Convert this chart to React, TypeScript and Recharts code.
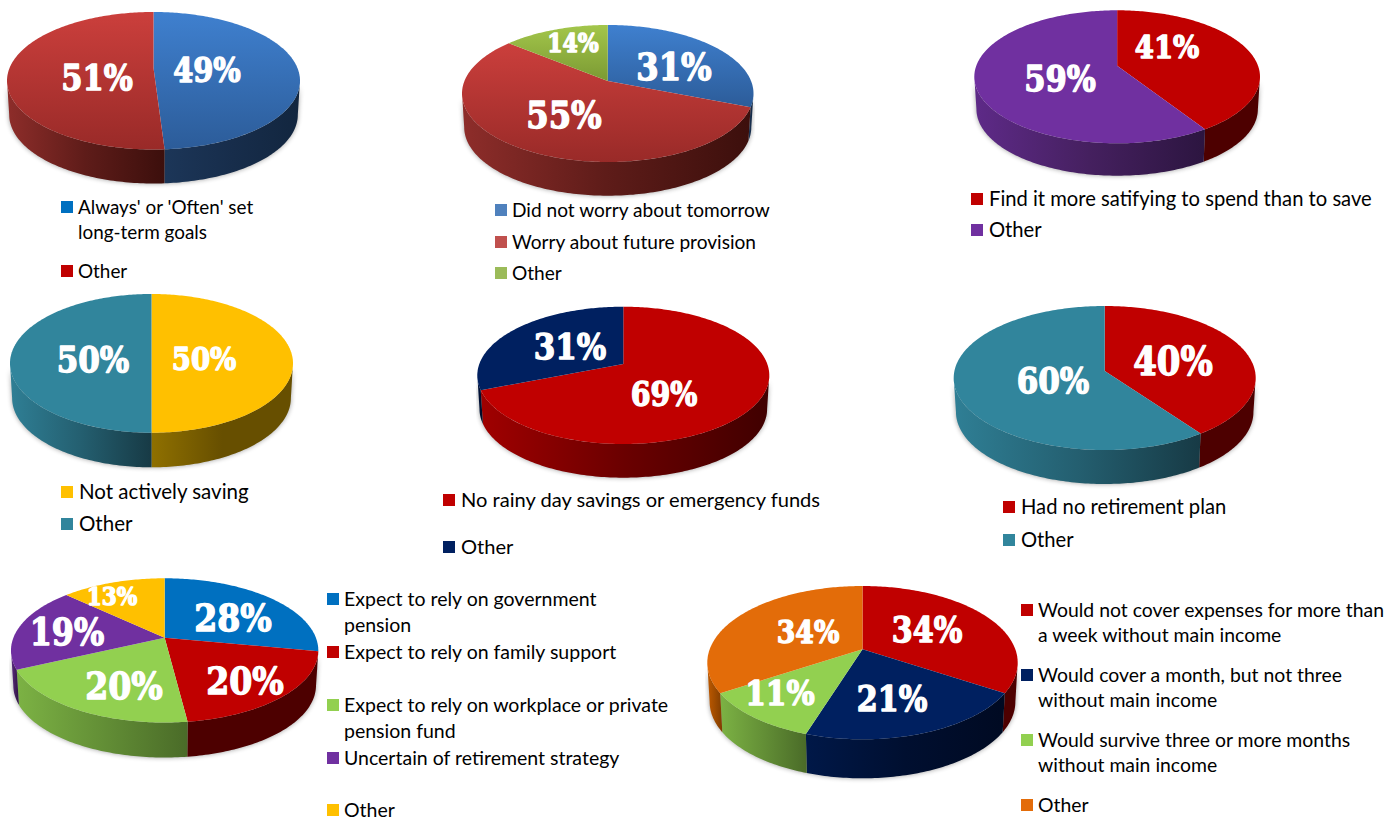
import React from "react";
import { PieChart, Pie } from "recharts";

// Slice names, values and legend rows for each survey question.
const goalNames = ["Always' or 'Often' set long-term goals", "Other"];
const goalValues = [49, 51];
const goalLegend = [["Always' or 'Often' set", "long-term goals"], ["Other"]];

const worryNames = ["Did not worry about tomorrow", "Worry about future provision", "Other"];
const worryValues = [31, 55, 14];
const worryLegend = [["Did not worry about tomorrow"], ["Worry about future provision"], ["Other"]];

const spendNames = ["Find it more satifying to spend than to save", "Other"];
const spendValues = [41, 59];
const spendLegend = [["Find it more satifying to spend than to save"], ["Other"]];

const savingNames = ["Not actively saving", "Other"];
const savingValues = [50, 50];
const savingLegend = [["Not actively saving"], ["Other"]];

const rainyNames = ["No rainy day savings or emergency funds", "Other"];
const rainyValues = [69, 31];
const rainyLegend = [["No rainy day savings or emergency funds"], ["Other"]];

const planNames = ["Had no retirement plan", "Other"];
const planValues = [40, 60];
const planLegend = [["Had no retirement plan"], ["Other"]];

const relyNames = [
  "Expect to rely on government pension",
  "Expect to rely on family support",
  "Expect to rely on workplace or private pension fund",
  "Uncertain of retirement strategy",
  "Other",
];
const relyValues = [28, 20, 20, 19, 13];
const relyLegend = [
  ["Expect to rely on government", "pension"],
  ["Expect to rely on family support"],
  ["Expect to rely on workplace or private", "pension fund"],
  ["Uncertain of retirement strategy"],
  ["Other"],
];

const incomeNames = [
  "Would not cover expenses for more than a week without main income",
  "Would cover a month, but not three without main income",
  "Would survive three or more months without main income",
  "Other",
];
const incomeValues = [34, 21, 11, 34];
const incomeLegend = [
  ["Would not cover expenses for more than", "a week without main income"],
  ["Would cover a month, but not three", "without main income"],
  ["Would survive three or more months", "without main income"],
  ["Other"],
];

// Face fill is [top, bottom]; wall fill is [left, middle, right].
type Paint = { face: [string, string]; wall: [string, string, string]; swatch: string };

const softBlue: Paint = { face: ["#3F80CF", "#2C5C99"], wall: ["#1C3658", "#172D4B", "#12263F"], swatch: "#0070C0" };
const softRed: Paint = { face: ["#CB3F3C", "#992A28"], wall: ["#8E2D2A", "#5E1C19", "#3C0F0C"], swatch: "#C00000" };
const softGreen: Paint = { face: ["#A3C64B", "#7B9A33"], wall: ["#7B9A33", "#5E7A28", "#4A6120"], swatch: "#9BBB59" };
const red: Paint = { face: ["#C00000", "#C00000"], wall: ["#A00000", "#6A0000", "#400000"], swatch: "#C00000" };
const redEdge: Paint = { face: ["#C00000", "#C00000"], wall: ["#4D0000", "#4D0000", "#4D0000"], swatch: "#C00000" };
const purple: Paint = { face: ["#7030A0", "#7030A0"], wall: ["#5E2A88", "#45205F", "#2C1540"], swatch: "#7030A0" };
const gold: Paint = { face: ["#FFC000", "#FFC000"], wall: ["#8F7000", "#674F00", "#674F00"], swatch: "#FFC000" };
const teal: Paint = { face: ["#31859C", "#31859C"], wall: ["#2F7F95", "#245F70", "#173A45"], swatch: "#31859C" };
const navy: Paint = { face: ["#002060", "#002060"], wall: ["#001848", "#000F30", "#000A22"], swatch: "#002060" };
const blue: Paint = { face: ["#0070C0", "#0070C0"], wall: ["#00508A", "#003A66", "#002A4A"], swatch: "#0070C0" };
const green: Paint = { face: ["#92D050", "#92D050"], wall: ["#7CB244", "#638F36", "#4A6B28"], swatch: "#92D050" };
const orange: Paint = { face: ["#E36C09", "#E36C09"], wall: ["#C05A00", "#A04C00", "#803C00"], swatch: "#E36C09" };

type ChartSpec = {
  id: string;
  names: string[];
  values: number[];
  legend: string[][];
  paints: Paint[];
  left: number;
  right: number;
  top: number;
  apex: number;
  bottom: number;
  depth: number;
  labels: [number, number, number][]; // centre x, centre y, text width
  swatchX: number;
  textX: number;
  rowsY: number[][];
  legendSize: number;
};

const charts: ChartSpec[] = [
  {
    id: "goals", names: goalNames, values: goalValues, legend: goalLegend,
    paints: [softBlue, softRed],
    left: 7, right: 300, top: 12, apex: 68, bottom: 149.5, depth: 34,
    labels: [[207, 70, 69], [97, 77, 73]],
    swatchX: 61, textX: 78, rowsY: [[207, 232], [271]], legendSize: 18.9,
  },
  {
    id: "worry", names: worryNames, values: worryValues, legend: worryLegend,
    paints: [{ ...softBlue, swatch: "#4F81BD" }, { ...softRed, swatch: "#C0504D" }, softGreen],
    left: 462, right: 753.5, top: 25, apex: 81, bottom: 162, depth: 33.7,
    labels: [[674, 67, 77], [564, 115, 77], [573, 43, 53]],
    swatchX: 495, textX: 512, rowsY: [[210], [242], [273]], legendSize: 19.1,
  },
  {
    id: "spend", names: spendNames, values: spendValues, legend: spendLegend,
    paints: [redEdge, purple],
    left: 974.3, right: 1260, top: 10.3, apex: 65.7, bottom: 143.3, depth: 32.4,
    labels: [[1167, 46, 66], [1060, 78, 73]],
    swatchX: 971, textX: 989, rowsY: [[199], [230]], legendSize: 20.2,
  },
  {
    id: "saving", names: savingNames, values: savingValues, legend: savingLegend,
    paints: [gold, teal],
    left: 10, right: 293, top: 294, apex: 350, bottom: 432.7, depth: 34.6,
    labels: [[204, 358, 66], [93, 359, 74]],
    swatchX: 61, textX: 79, rowsY: [[492], [524]], legendSize: 20.5,
  },
  {
    id: "rainy", names: rainyNames, values: rainyValues, legend: rainyLegend,
    paints: [red, navy],
    left: 477.3, right: 769.3, top: 306.7, apex: 364, bottom: 444, depth: 33.7,
    labels: [[664, 394, 68], [570, 346, 74]],
    swatchX: 443, textX: 461, rowsY: [[500], [547]], legendSize: 20.1,
  },
  {
    id: "plan", names: planNames, values: planValues, legend: planLegend,
    paints: [redEdge, teal],
    left: 953.7, right: 1255.7, top: 306, apex: 371, bottom: 450, depth: 34,
    labels: [[1173, 361, 81], [1053, 380, 74]],
    swatchX: 1003, textX: 1021, rowsY: [[507], [540]], legendSize: 20.2,
  },
  {
    id: "rely", names: relyNames, values: relyValues, legend: relyLegend,
    paints: [blue, redEdge, green, purple, gold],
    left: 11, right: 318.3, top: 578.3, apex: 637.7, bottom: 722.5, depth: 35,
    labels: [[233, 617, 79], [245, 680, 79], [124, 685, 79], [67, 632, 76], [112, 596, 52]],
    swatchX: 327, textX: 344, rowsY: [[599, 625], [652], [705, 731], [758], [810]], legendSize: 19.5,
  },
  {
    id: "income", names: incomeNames, values: incomeValues, legend: incomeLegend,
    paints: [redEdge, navy, green, orange],
    left: 707.3, right: 1017.7, top: 586, apex: 649.3, bottom: 739.3, depth: 39,
    labels: [[927, 630, 72], [892, 699, 72], [780, 693, 71], [808, 632, 64]],
    swatchX: 1021, textX: 1038, rowsY: [[610, 635], [675, 700], [740, 765], [805]], legendSize: 19.4,
  },
];

const LEGEND_FONT = "Lato, 'Open Sans', sans-serif";
const LABEL_FONT = "'DejaVu Serif', serif";
const WALL_TAPER = 0.985;

// Perspective projection of the unit disc: the disc centre lands on the apex,
// the rim lands on an ellipse spanning the chart's left/right/top/bottom.
function makeProjector(chart: ChartSpec, cx: number, cy: number, rx: number) {
  const above = chart.apex - chart.top;
  const below = chart.bottom - chart.apex;
  const tilt = (below - above) / (below + above);
  const depthScale = above * (1 + tilt);
  const widthScale = rx * Math.sqrt(1 - tilt * tilt);
  const rim = (deg: number) => {
    const t = (deg * Math.PI) / 180;
    const u = Math.sin(t);
    const v = -Math.cos(t);
    const w = 1 - tilt * v;
    return { x: cx + (widthScale * u) / w, y: cy + (depthScale * v) / w };
  };
  const turn = (Math.acos(-tilt) * 180) / Math.PI;
  return { rim, frontStart: turn, frontEnd: 360 - turn };
}

function sampleAngles(from: number, to: number) {
  const out: number[] = [];
  const steps = Math.max(2, Math.ceil(to - from));
  for (let i = 0; i <= steps; i++) out.push(from + ((to - from) * i) / steps);
  return out;
}

function wallPath(chart: ChartSpec, props: any) {
  const { cx, cy, outerRadius, startAngle, endAngle } = props;
  const { rim, frontStart, frontEnd } = makeProjector(chart, cx, cy, outerRadius);
  const from = Math.max(90 - startAngle, frontStart);
  const to = Math.min(90 - endAngle, frontEnd);
  if (to <= from) return null;
  const angles = sampleAngles(from, to);
  const upper = angles.map(rim);
  const lower = angles
    .slice()
    .reverse()
    .map((a) => {
      const p = rim(a);
      return { x: cx + (p.x - cx) * WALL_TAPER, y: p.y + chart.depth };
    });
  return "M" + [...upper, ...lower].map((p) => `${p.x.toFixed(2)},${p.y.toFixed(2)}`).join("L") + "Z";
}

function facePath(chart: ChartSpec, props: any) {
  const { cx, cy, outerRadius, startAngle, endAngle } = props;
  const { rim } = makeProjector(chart, cx, cy, outerRadius);
  const pts = sampleAngles(90 - startAngle, 90 - endAngle).map(rim);
  return `M${cx},${cy}L` + pts.map((p) => `${p.x.toFixed(2)},${p.y.toFixed(2)}`).join("L") + "Z";
}

function ExtrudedPie({ chart }: { chart: ChartSpec }) {
  const rows = chart.names.map((name, i) => ({ name, value: chart.values[i] }));
  const cx = (chart.left + chart.right) / 2;
  const outerRadius = (chart.right - chart.left) / 2;
  const layer = { data: rows, dataKey: "value", nameKey: "name", cx, cy: chart.apex, outerRadius, innerRadius: 0,
    startAngle: 90, endAngle: -270, stroke: "none", isAnimationActive: false, labelLine: false };

  return (
    <div style={{ position: "absolute", left: 0, top: 0, pointerEvents: "none" }}>
      <PieChart width={1397} height={818} margin={{ top: 0, right: 0, bottom: 0, left: 0 }}>
        <defs>
          <filter id={`${chart.id}-shadow`} x="-15%" y="-30%" width="130%" height="160%">
            <feGaussianBlur stdDeviation="2.4" />
          </filter>
          {chart.paints.map((paint, i) => (
            <React.Fragment key={i}>
              <linearGradient id={`${chart.id}-face-${i}`} x1="0" y1="0" x2="0" y2="1">
                <stop offset="0" stopColor={paint.face[0]} />
                <stop offset="1" stopColor={paint.face[1]} />
              </linearGradient>
              <linearGradient id={`${chart.id}-wall-${i}`} x1="0" y1="0" x2="1" y2="0">
                <stop offset="0" stopColor={paint.wall[0]} />
                <stop offset="0.5" stopColor={paint.wall[1]} />
                <stop offset="1" stopColor={paint.wall[2]} />
              </linearGradient>
            </React.Fragment>
          ))}
        </defs>

        {/* soft contact shadow under the extruded wall */}
        <Pie
          {...layer}
          label={false}
          shape={(props: any) => {
            const d = wallPath(chart, props);
            return d ? <path d={d} fill="#000" opacity={0.38} filter={`url(#${chart.id}-shadow)`} /> : <g />;
          }}
        />
        {/* side wall */}
        <Pie
          {...layer}
          label={false}
          shape={(props: any) => {
            const d = wallPath(chart, props);
            return d ? <path d={d} fill={`url(#${chart.id}-wall-${props.index})`} /> : <g />;
          }}
        />
        {/* top face with the percentage labels */}
        <Pie
          {...layer}
          shape={(props: any) => <path d={facePath(chart, props)} fill={`url(#${chart.id}-face-${props.index})`} />}
          label={(props: any) => {
            const [x, y, w] = chart.labels[props.index];
            return (
              <text
                key={props.index}
                x={x}
                y={y}
                textAnchor="middle"
                dominantBaseline="central"
                fill="#fff"
                stroke="#fff"
                strokeWidth={1.4}
                strokeLinejoin="round"
                fontFamily={LABEL_FONT}
                fontWeight={700}
                fontSize={w * 0.48}
                textLength={w - 1.4}
                lengthAdjust="spacingAndGlyphs"
              >
                {`${chart.values[props.index]}%`}
              </text>
            );
          }}
        />

        {/* legend rows */}
        {chart.legend.map((lines, i) => (
          <g key={i}>
            <rect x={chart.swatchX} y={chart.rowsY[i][0] - 6} width={12} height={12} fill={chart.paints[i].swatch} />
            {lines.map((line, j) => (
              <text
                key={j}
                x={chart.textX}
                y={chart.rowsY[i][j] - 1}
                dominantBaseline="central"
                fontFamily={LEGEND_FONT}
                fontSize={chart.legendSize}
                fill="#000"
              >
                {line}
              </text>
            ))}
          </g>
        ))}
      </PieChart>
    </div>
  );
}

export default function App() {
  return (
    <div style={{ position: "absolute", left: 0, top: 0, width: 1397, height: 818, background: "#fff" }}>
      {charts.map((chart) => (
        <ExtrudedPie key={chart.id} chart={chart} />
      ))}
    </div>
  );
}
